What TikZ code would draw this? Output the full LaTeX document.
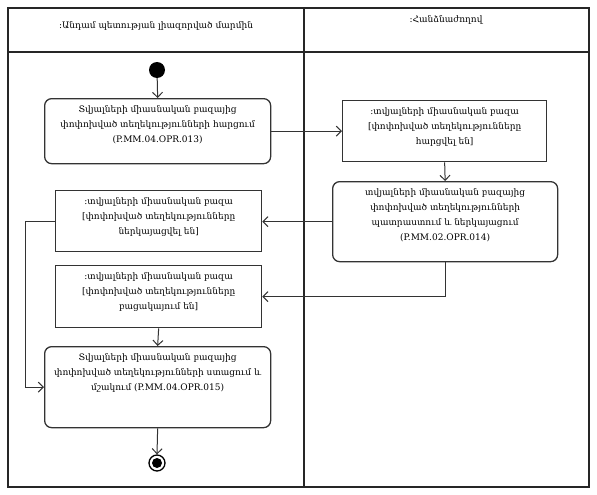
\documentclass[tikz,border=0pt]{standalone}
\usepackage{fontspec}
\setmainfont{DejaVu Serif}
\usetikzlibrary{arrows.meta,calc}
\tikzset{
  lane/.style={draw=black!85, line width=1.3pt},
  act/.style={draw=black!80, line width=1.3pt, rounded corners=7pt, inner sep=0pt, anchor=north west},
  obj/.style={draw=black!80, line width=1.3pt, inner sep=0pt, anchor=north west},
  flow/.style={draw=black!80, line width=1pt, -{Straight Barb[length=5pt,width=10pt]}},
  txt/.style={font=\fontsize{9}{15}\selectfont},
}
\newcommand{\boxtext}[3]{\parbox[c][#2][t]{#1}{\centering\vspace*{7pt}#3}}
\begin{document}
\begin{tikzpicture}[x=1pt,y=-1pt]
\useasboundingbox (0,0) rectangle (597,495);
% swimlanes
\draw[lane] (8,8) rectangle (589,487);
\draw[lane] (8,52) -- (589,52);
\draw[lane] (304,8) -- (304,487);
\node[txt] (h1) at (156,26) {:Անդամ պետության լիազորված մարմին};
\node[txt] (h2) at (446,20) {:Հանձնաժողով};
% start
\node[circle, fill=black, minimum size=16pt, inner sep=0pt] (start) at (157,70) {};
% activities and objects
\node[act, txt] (b1) at (44,98) {\boxtext{226pt}{65pt}{Տվյալների միասնական բազայից\\ փոփոխված տեղեկությունների հարցում\\ (P.MM.04.OPR.013)}};
\node[obj, txt] (b2) at (342,100) {\boxtext{204pt}{61pt}{:տվյալների միասնական բազա\\ {[}փոփոխված տեղեկությունները\\ հարցվել են{]}}};
\node[act, txt] (b3) at (332,181) {\boxtext{225pt}{80pt}{տվյալների միասնական բազայից\\ փոփոխված տեղեկությունների\\ պատրաստում և ներկայացում\\ (P.MM.02.OPR.014)}};
\node[obj, txt] (b4) at (55,190) {\boxtext{206pt}{61pt}{:տվյալների միասնական բազա\\ {[}փոփոխված տեղեկությունները\\ ներկայացվել են{]}}};
\node[obj, txt] (b5) at (55,265) {\boxtext{206pt}{62pt}{:տվյալների միասնական բազա\\ {[}փոփոխված տեղեկությունները\\ բացակայում են{]}}};
\node[act, txt] (b6) at (44,346) {\boxtext{226pt}{81pt}{Տվյալների միասնական բազայից\\ փոփոխված տեղեկությունների ստացում և\\ մշակում (P.MM.04.OPR.015)}};
% end
\node[circle, draw=black, line width=1.3pt, minimum size=16pt, inner sep=0pt] (end) at (157,463) {};
\node[circle, fill=black, minimum size=10pt, inner sep=0pt] (endin) at (end.center) {};
% flows
\draw[flow] (start) -- (b1.north);
\draw[flow] (b1.east) -- (b1.east -| b2.west);
\draw[flow] (b2.south) -- (b3.north);
\draw[flow] (b3.west) -- (b3.west -| b4.east);
\draw[flow] (b4.west) -- ++(-30,0) |- (b6.west);
\draw[flow] (b3.south) |- (b5.east);
\draw[flow] (b5.south) -- (b6.north);
\draw[flow] (b6.south) -- (end.north);
\end{tikzpicture}
\end{document}
